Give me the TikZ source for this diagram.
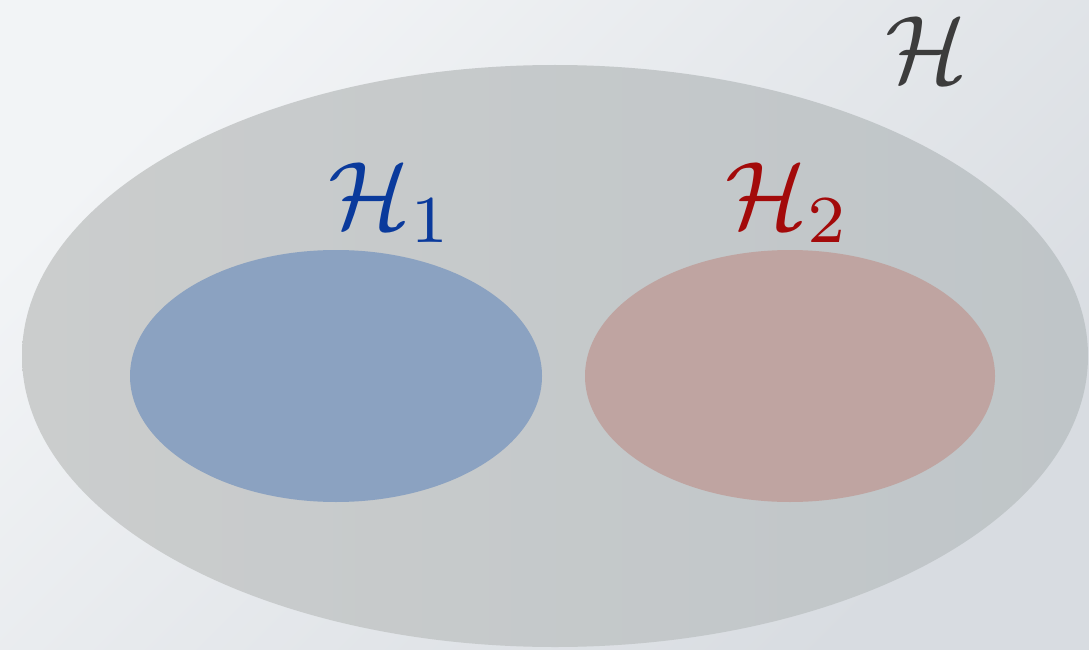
\documentclass[tikz,border=0pt]{standalone}
\definecolor{bgA}{HTML}{F2F4F6}
\definecolor{bgB}{HTML}{D8DCE1}
\definecolor{bigA}{HTML}{CBCDCD}
\definecolor{bigB}{HTML}{BFC5C8}
\definecolor{blueFill}{HTML}{8BA2C1}
\definecolor{redFill}{HTML}{BFA4A1}
\definecolor{blueText}{HTML}{0A3A9C}
\definecolor{redText}{HTML}{A30A0A}
\definecolor{grayText}{HTML}{3C3C3C}
\tikzset{
  lbl/.style={inner sep=0pt, scale=9.6},
}
\begin{document}
\begin{tikzpicture}[x=1pt,y=-1pt]
\useasboundingbox (0,0) rectangle (1089,650);
\shade[top color=bgA, bottom color=bgB, shading angle=45] (0,0) rectangle (1089,650);
\shade[left color=bigA, right color=bigB] (555,356) ellipse [x radius=533, y radius=291];
\fill[blueFill] (336,376) ellipse [x radius=206, y radius=126];
\fill[redFill] (790,376) ellipse [x radius=205, y radius=126];
\node[lbl, text=grayText] (H) at (926,50) {$\mathcal{H}$};
\node[lbl, text=blueText] (H1) at (391,203) {$\mathcal{H}_1$};
\node[lbl, text=redText] (H2) at (788,203) {$\mathcal{H}_2$};
\end{tikzpicture}
\end{document}
